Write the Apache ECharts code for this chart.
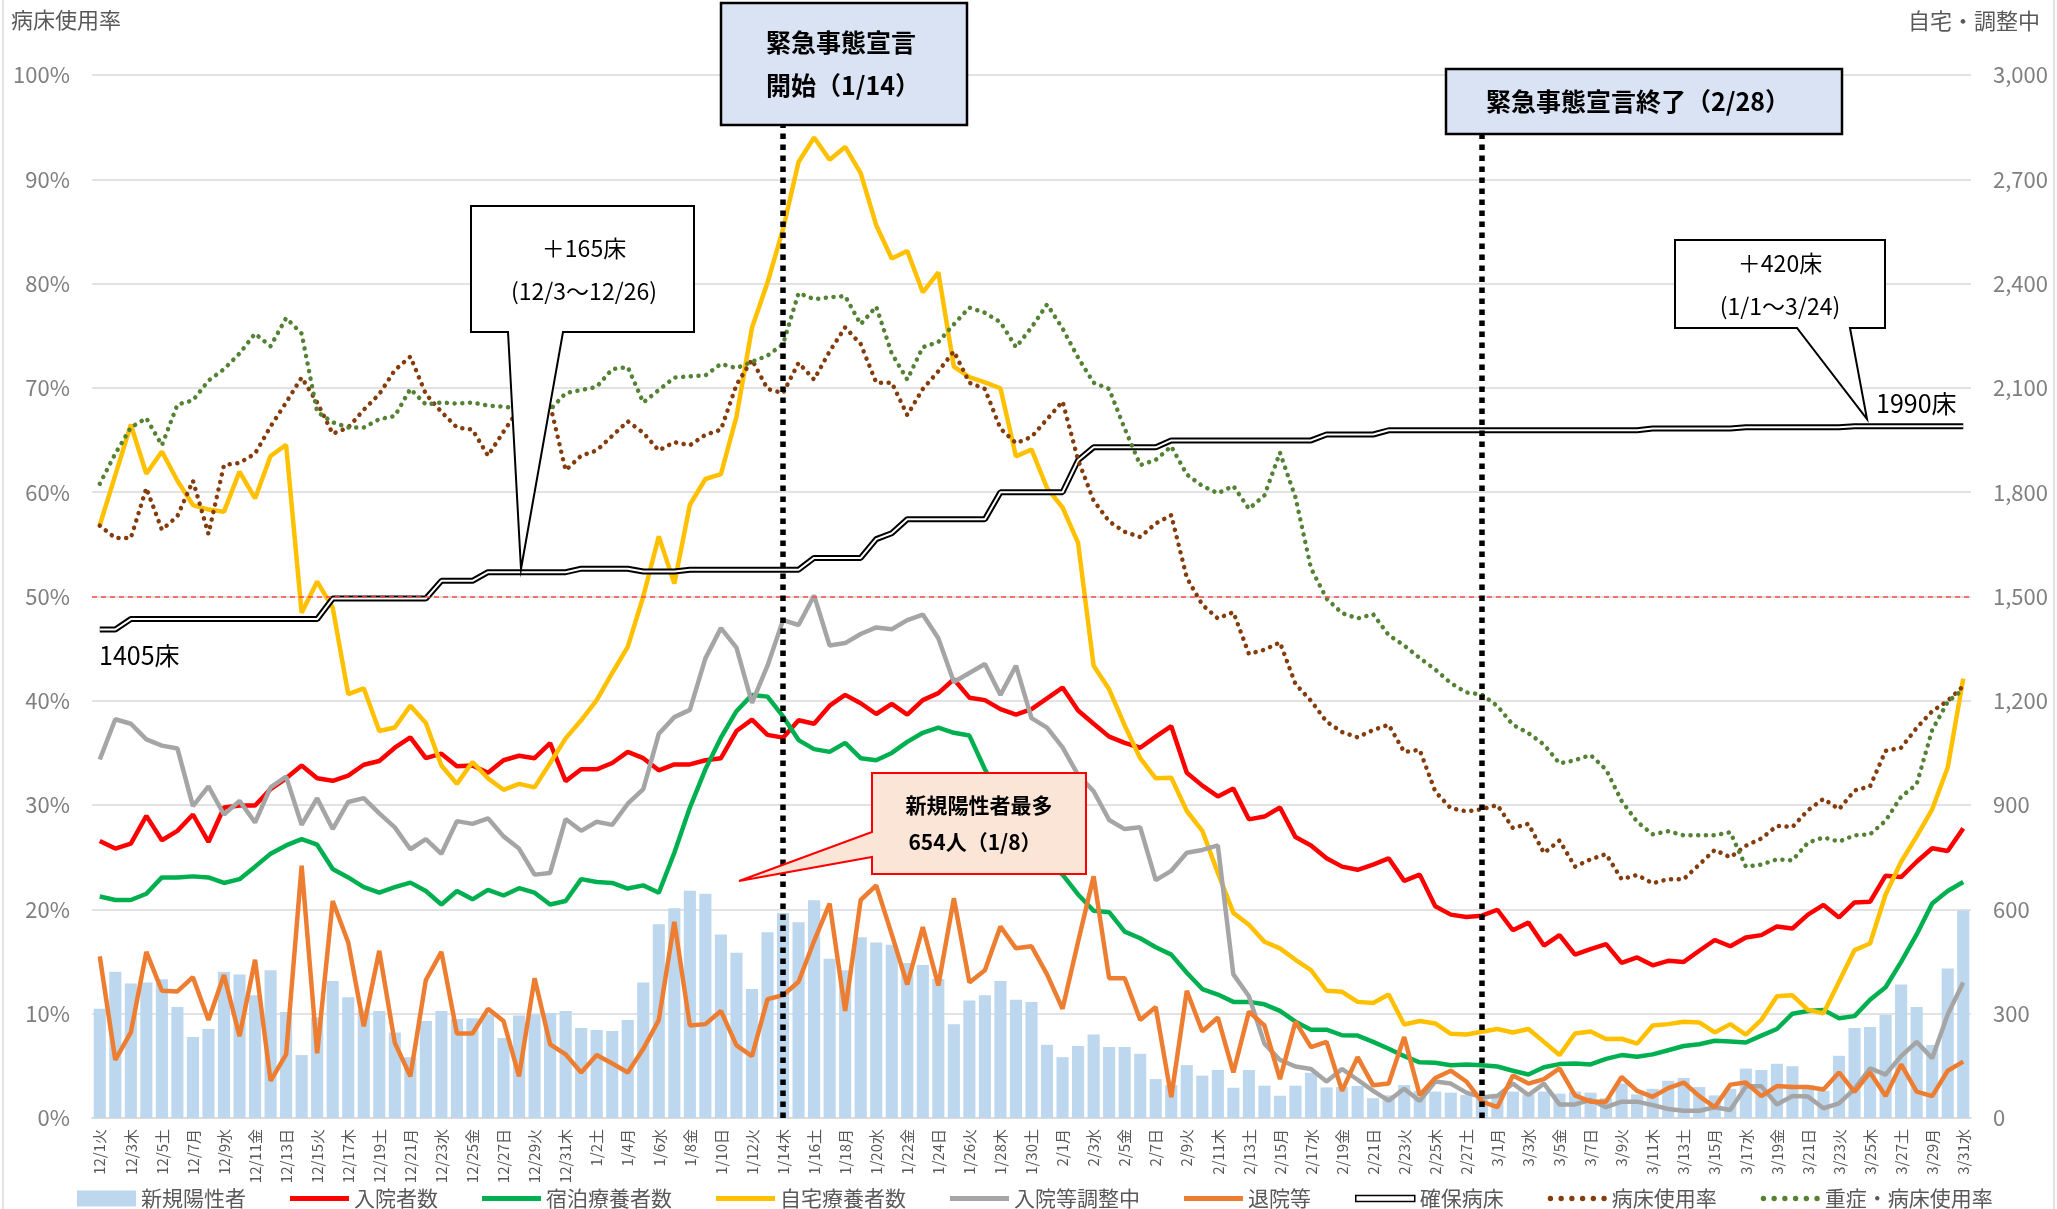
<!DOCTYPE html>
<html>
<head>
<meta charset="utf-8">
<script src="https://cdn.jsdelivr.net/npm/echarts@6/dist/echarts.min.js"></script>
<style>
  html, body { margin: 0; padding: 0; background: #fff; }
  #main { width: 2057px; height: 1209px; }
</style>
</head>
<body>
<div id="main"></div>
<script>
// 日付ラベル (12/1火 〜 3/31水)
var WEEK = ['日', '月', '火', '水', '木', '金', '土'];
var dates = [];
(function() {
    var d = new Date(2020, 11, 1);
    for (var i = 0; i < 121; i++) {
        dates.push((d.getMonth() + 1) + '/' + d.getDate() + WEEK[d.getDay()]);
        d.setDate(d.getDate() + 1);
    }
})();

// 新規陽性者
var newCases = [
    314, 421, 387, 390, 399, 319, 233, 256, 421, 413, 353, 425, 305, 181, 290, 394, 347, 310, 308, 246,
    175, 279, 308, 285, 287, 298, 230, 295, 298, 302,
    308, 259, 253, 250, 282, 390, 557, 603, 654, 645, 528, 475, 371, 534, 590, 563, 626, 458, 425, 520,
    505, 498, 446, 440, 400, 270, 338, 353, 394, 340,
    334, 211, 175, 207, 240, 204, 204, 185, 112, 95, 152, 122, 138, 87, 138, 93, 64, 93, 130, 88,
    89, 92, 57, 65, 95, 78, 76, 73, 66, 57,
    70, 76, 68, 76, 70, 76, 73, 57, 99, 68, 84, 107, 115, 89, 65, 84, 142, 138, 156, 149,
    94, 78, 179, 259, 262, 296, 384, 319, 210, 430, 597
];
// 入院者数
var hospitalized = [
    797, 775, 789, 869, 799, 826, 873, 794, 893, 899, 899, 946, 977, 1014, 977, 970, 985, 1016, 1027, 1065,
    1095, 1035, 1048, 1012, 1014, 993, 1029, 1042, 1035, 1078,
    969, 1003, 1003, 1021, 1053, 1035, 1000, 1017, 1017, 1029, 1035, 1113, 1146, 1102, 1094, 1144, 1134, 1186, 1217, 1193,
    1162, 1191, 1160, 1202, 1222, 1262, 1209, 1202, 1176, 1160,
    1176, 1207, 1238, 1172, 1134, 1097, 1079, 1065, 1097, 1127, 993, 956, 925, 948, 859, 867, 893, 808, 784, 747,
    723, 714, 729, 747, 682, 700, 609, 585, 578, 582,
    599, 540, 562, 496, 526, 470, 486, 500, 446, 462, 439, 452, 449, 481, 512, 494, 519, 526, 551, 545,
    585, 613, 577, 620, 622, 697, 693, 737, 776, 768, 833
];
// 宿泊療養者数
var hotel = [
    637, 627, 627, 645, 692, 692, 695, 692, 676, 687, 723, 760, 784, 802, 786, 716, 692, 664, 648, 664,
    677, 653, 614, 653, 629, 656, 640, 661, 648, 614,
    624, 687, 679, 676, 660, 669, 648, 763, 893, 1003, 1094, 1170, 1217, 1212, 1155, 1087, 1061, 1053, 1079, 1035,
    1029, 1050, 1082, 1108, 1123, 1108, 1100, 1003, 920, 840,
    780, 730, 700, 643, 596, 592, 536, 517, 491, 470, 418, 371, 355, 334, 334, 327, 308, 277, 254, 254,
    238, 237, 219, 199, 178, 160, 159, 152, 154, 152,
    148, 136, 125, 146, 155, 157, 154, 170, 181, 176, 183, 195, 207, 212, 222, 220, 217, 237, 256, 300,
    308, 311, 287, 293, 340, 376, 449, 528, 617, 653, 679
];
// 自宅療養者数
var home = [
    1705, 1849, 1994, 1853, 1917, 1833, 1763, 1750, 1744, 1859, 1782, 1904, 1936, 1453, 1543, 1468, 1219, 1236, 1113, 1123,
    1186, 1136, 1014, 961, 1024, 977, 944, 961, 951, 1021,
    1092, 1144, 1202, 1280, 1355, 1500, 1673, 1537, 1764, 1838, 1852, 2017, 2273, 2403, 2557, 2750, 2820, 2756, 2793, 2718,
    2568, 2472, 2494, 2375, 2432, 2161, 2131, 2116, 2099, 1903,
    1923, 1812, 1756, 1654, 1301, 1233, 1129, 1035, 977, 979, 883, 826, 705, 590, 556, 507, 488, 455, 425, 366,
    363, 334, 331, 355, 269, 279, 272, 242, 240, 248,
    256, 246, 256, 219, 181, 243, 249, 227, 228, 214, 266, 270, 277, 275, 246, 270, 240, 282, 350, 353,
    311, 301, 392, 483, 502, 643, 737, 810, 888, 1008, 1264
];
// 入院等調整中
var adjusting = [
    1031, 1147, 1134, 1089, 1071, 1063, 897, 954, 873, 912, 850, 951, 982, 843, 920, 831, 909, 920, 876, 836,
    773, 802, 760, 854, 846, 862, 810, 775, 700, 705,
    860, 826, 852, 843, 904, 946, 1105, 1153, 1174, 1322, 1409, 1353, 1194, 1301, 1432, 1418, 1503, 1359, 1366, 1392,
    1411, 1406, 1432, 1448, 1380, 1254, 1280, 1306, 1217, 1301,
    1150, 1123, 1066, 987, 940, 857, 831, 836, 684, 711, 763, 771, 784, 413, 350, 214, 167, 148, 141, 105,
    141, 110, 78, 50, 84, 49, 105, 99, 73, 60,
    63, 99, 66, 99, 39, 39, 52, 31, 47, 47, 37, 26, 21, 21, 31, 23, 91, 91, 39, 63,
    62, 28, 42, 84, 143, 125, 178, 219, 172, 298, 390
];
// 退院等
var discharged = [
    465, 167, 246, 478, 366, 364, 405, 282, 411, 235, 455, 107, 183, 726, 186, 624, 505, 264, 481, 216,
    120, 397, 478, 243, 243, 314, 279, 120, 402, 212,
    183, 131, 181, 157, 131, 199, 282, 564, 266, 270, 308, 209, 178, 342, 353, 392, 509, 617, 308, 627,
    669, 528, 384, 549, 381, 632, 390, 425, 551, 488,
    494, 413, 314, 507, 695, 402, 402, 282, 319, 60, 366, 249, 289, 131, 306, 266, 112, 277, 204, 219,
    78, 175, 94, 99, 233, 66, 115, 136, 105, 47,
    31, 122, 99, 112, 143, 65, 47, 47, 118, 78, 61, 86, 102, 63, 31, 96, 102, 63, 92, 89,
    89, 82, 131, 75, 131, 63, 154, 76, 63, 136, 162
];
// 確保病床
var beds = [
    1405, 1405, 1435, 1435, 1435, 1435, 1435, 1435, 1435, 1435, 1435, 1435, 1435, 1435, 1435, 1494, 1494, 1494, 1494, 1494,
    1494, 1494, 1545, 1545, 1545, 1570, 1570, 1570, 1570, 1570,
    1570, 1580, 1580, 1580, 1580, 1572, 1572, 1572, 1577, 1577, 1577, 1577, 1577, 1577, 1577, 1577, 1611, 1611, 1611, 1611,
    1665, 1682, 1722, 1722, 1722, 1722, 1722, 1722, 1800, 1800,
    1800, 1800, 1800, 1892, 1929, 1929, 1929, 1929, 1929, 1949, 1949, 1949, 1949, 1949, 1949, 1949, 1949, 1949, 1949, 1966,
    1966, 1966, 1966, 1978, 1978, 1978, 1978, 1978, 1978, 1978,
    1978, 1978, 1978, 1978, 1978, 1978, 1978, 1978, 1978, 1978, 1983, 1983, 1983, 1983, 1983, 1983, 1987, 1987, 1987, 1987,
    1987, 1987, 1987, 1990, 1990, 1990, 1990, 1990, 1990, 1990, 1990
];
// 病床使用率 (%)
var bedRate = [
    56.8, 55.6, 55.6, 60.4, 56.4, 57.7, 61.1, 56.0, 62.6, 62.8, 63.7, 66.3, 68.6, 71.0, 68.6, 65.6, 66.2, 67.9, 69.4, 71.7,
    73.0, 69.4, 67.7, 66.2, 66.0, 63.5, 65.8, 68.0, 66.5, 68.4,
    62.1, 63.5, 64.0, 65.4, 66.8, 65.7, 64.0, 64.8, 64.5, 65.5, 66.0, 70.3, 72.7, 69.9, 69.5, 72.4, 70.8, 73.5, 75.8, 74.2,
    70.5, 70.5, 67.4, 69.9, 71.6, 73.5, 70.5, 69.9, 66.1, 64.7,
    65.3, 67.0, 68.7, 63.1, 59.2, 57.2, 56.2, 55.7, 57.0, 57.8, 51.8, 49.2, 47.9, 48.5, 44.5, 44.9, 45.6, 41.6, 40.0, 38.0,
    37.0, 36.5, 37.2, 37.7, 35.1, 35.3, 31.3, 29.7, 29.4, 29.6,
    30.0, 27.8, 28.2, 25.4, 26.6, 24.1, 24.8, 25.3, 22.9, 23.3, 22.5, 22.9, 22.9, 24.3, 25.7, 25.0, 26.1, 26.8, 28.0, 27.9,
    29.5, 30.6, 29.6, 31.4, 31.8, 35.2, 35.5, 37.4, 39.0, 40.0, 41.4
];
// 重症・病床使用率 (%)
var severeRate = [
    60.8, 63.7, 66.2, 67.1, 64.5, 68.4, 68.8, 70.7, 71.8, 73.3, 75.2, 74.0, 76.7, 75.2, 67.7, 66.7, 66.2, 66.2, 67.0, 67.3,
    69.9, 68.4, 68.6, 68.5, 68.6, 68.3, 68.2, 68.0, 67.9, 67.9,
    69.5, 69.8, 70.1, 71.8, 72.0, 68.6, 69.8, 71.0, 71.1, 71.2, 72.3, 71.9, 72.5, 73.1, 74.2, 79.1, 78.5, 78.7, 78.8, 76.1,
    77.8, 73.3, 70.8, 73.9, 74.4, 76.1, 77.7, 77.2, 76.3, 73.9,
    75.8, 78.0, 75.7, 72.9, 70.5, 69.9, 66.1, 62.6, 63.1, 64.4, 61.7, 60.6, 59.9, 60.6, 58.4, 59.7, 63.8, 59.5, 52.7, 49.8,
    48.4, 47.9, 48.3, 46.3, 45.3, 44.1, 43.0, 41.7, 40.8, 40.6,
    39.5, 37.7, 36.9, 35.8, 34.0, 34.3, 34.8, 33.4, 30.4, 28.4, 27.2, 27.5, 27.1, 27.1, 27.1, 27.4, 24.1, 24.3, 24.8, 24.7,
    26.4, 26.9, 26.5, 27.1, 27.2, 28.5, 30.8, 32.0, 37.2, 39.9, 41.1
];

// 緊急事態宣言の開始・終了日
var eventDays = [dates[44], dates[89]];

var FONT = '"Noto Sans CJK JP", "Noto Sans", sans-serif';

// 凡例アイコン
var LINE_ICON = 'path://M0 0H60V5H0Z';
var DOT_ICON = 'path://' + [2.5, 12.5, 22.5, 32.5, 42.5, 52.5].map(function(c) {
    return 'M' + (c - 2.5) + ' 2.5A2.5 2.5 0 1 0 ' + (c + 2.5) + ' 2.5A2.5 2.5 0 1 0 ' + (c - 2.5) + ' 2.5Z';
}).join('');

function legendLine(name, color) {
    return { name: name, icon: LINE_ICON, itemStyle: { color: color, borderWidth: 0 } };
}
function legendDot(name, color) {
    return { name: name, icon: DOT_ICON, itemStyle: { color: color, borderWidth: 0 } };
}

var myChart = echarts.init(document.getElementById('main'));

function lineSeries(name, data, color, width, yIndex) {
    return {
        name: name,
        type: 'line',
        yAxisIndex: yIndex,
        data: data,
        symbol: 'none',
        lineStyle: { color: color, width: width },
        itemStyle: { color: color }
    };
}

function dottedSeries(name, data, color) {
    return {
        name: name,
        type: 'line',
        yAxisIndex: 0,
        data: data,
        symbol: 'none',
        lineStyle: { color: color, width: 4.5, type: [0.1, 7.6], cap: 'round' },
        itemStyle: { color: color }
    };
}

var greenDotted = dottedSeries('重症・病床使用率', severeRate, '#548235');
greenDotted.markLine = {
    silent: true,
    symbol: ['none', 'none'],
    label: { show: false },
    lineStyle: { color: '#000', width: 5.5, type: [5.5, 5.5] },
    data: [{ xAxis: eventDays[0] }, { xAxis: eventDays[1] }]
};

var option = {
    animation: false,
    backgroundColor: '#fff',
    textStyle: { fontFamily: FONT },
    grid: { left: 92, right: 86, top: 75, bottom: 91 },
    legend: {
        top: 1183,
        left: 72,
        itemWidth: 59,
        itemHeight: 16,
        itemGap: 44,
        textStyle: { color: '#595959', fontSize: 21, fontFamily: FONT },
        data: [
            { name: '新規陽性者', icon: 'rect', itemStyle: { color: '#BDD7EE' } },
            legendLine('入院者数', '#FF0000'),
            legendLine('宿泊療養者数', '#00B050'),
            legendLine('自宅療養者数', '#FFC000'),
            legendLine('入院等調整中', '#A5A5A5'),
            legendLine('退院等', '#ED7D31'),
            { name: '確保病床', icon: 'path://M0 0H60V6H0Z',
              itemStyle: { color: '#fff', borderColor: '#000', borderWidth: 1.5 } },
            legendDot('病床使用率', '#843C0C'),
            legendDot('重症・病床使用率', '#548235')
        ]
    },
    xAxis: {
        type: 'category',
        data: dates,
        axisLine: { lineStyle: { color: '#D9D9D9', width: 1.5 } },
        axisTick: { interval: 1, length: 5, lineStyle: { color: '#BFBFBF' } },
        axisLabel: { interval: 1, rotate: 90, color: '#595959', fontSize: 15, margin: 11, fontFamily: FONT }
    },
    yAxis: [
        {
            type: 'value', min: 0, max: 100, interval: 10,
            axisLabel: { formatter: '{value}%', color: '#7F7F7F', fontSize: 22, margin: 22, fontFamily: FONT },
            splitLine: { lineStyle: { color: '#D9D9D9', width: 1.5 } },
            axisLine: { show: false }, axisTick: { show: false }
        },
        {
            type: 'value', min: 0, max: 3000, interval: 300,
            axisLabel: {
                color: '#7F7F7F', fontSize: 22, margin: 22, fontFamily: FONT,
                formatter: function(v) { return v.toLocaleString('en-US'); }
            },
            splitLine: { show: false },
            axisLine: { show: false }, axisTick: { show: false }
        }
    ],
    series: [
        {
            name: '新規陽性者',
            type: 'bar',
            yAxisIndex: 1,
            data: newCases,
            barCategoryGap: '22%',
            itemStyle: { color: '#BDD7EE' },
            markLine: {
                silent: true,
                symbol: ['none', 'none'],
                label: { show: false },
                lineStyle: { color: '#FF4B4B', width: 1.5, type: [5, 4] },
                data: [{ yAxis: 1500 }]
            }
        },
        lineSeries('入院者数', hospitalized, '#FF0000', 4.5, 1),
        lineSeries('宿泊療養者数', hotel, '#00B050', 4.5, 1),
        lineSeries('自宅療養者数', home, '#FFC000', 4.5, 1),
        lineSeries('入院等調整中', adjusting, '#A5A5A5', 4.5, 1),
        lineSeries('退院等', discharged, '#ED7D31', 4.5, 1),
        lineSeries('確保病床', beds, '#000000', 6, 1),
        lineSeries('確保病床内線', beds, '#FFFFFF', 2, 1),
        dottedSeries('病床使用率', bedRate, '#843C0C'),
        greenDotted
    ],
    graphic: [
        // 外枠
        { type: 'line', z: 100, shape: { x1: 3, y1: 0, x2: 3, y2: 1209 }, style: { stroke: '#D9D9D9', lineWidth: 1.5 } },
        { type: 'line', z: 100, shape: { x1: 2054, y1: 0, x2: 2054, y2: 1209 }, style: { stroke: '#D9D9D9', lineWidth: 1.5 } },
        // 軸タイトル
        { type: 'text', z: 100, style: { text: '病床使用率', x: 11, y: 20, fill: '#595959',
            font: '22px ' + FONT, verticalAlign: 'middle' } },
        { type: 'text', z: 100, style: { text: '自宅・調整中', x: 2040, y: 21, fill: '#595959',
            font: '22px ' + FONT, align: 'right', verticalAlign: 'middle' } },
        // 緊急事態宣言 開始
        { type: 'rect', z: 100, shape: { x: 721, y: 3, width: 246, height: 122 },
          style: { fill: '#DAE3F3', stroke: '#000', lineWidth: 2.5 } },
        { type: 'text', z: 101, style: { text: '緊急事態宣言', x: 766, y: 42, fill: '#000',
            font: 'bold 25px ' + FONT, verticalAlign: 'middle' } },
        { type: 'text', z: 101, style: { text: '開始（1/14）', x: 766, y: 85, fill: '#000',
            font: 'bold 25px ' + FONT, verticalAlign: 'middle' } },
        // 緊急事態宣言 終了
        { type: 'rect', z: 100, shape: { x: 1446, y: 69, width: 396, height: 65 },
          style: { fill: '#DAE3F3', stroke: '#000', lineWidth: 2.5 } },
        { type: 'text', z: 101, style: { text: '緊急事態宣言終了（2/28）', x: 1638, y: 101, fill: '#000',
            font: 'bold 25px ' + FONT, align: 'center', verticalAlign: 'middle' } },
        // ＋165床
        { type: 'polygon', z: 100,
          shape: { points: [[471, 206], [694, 206], [694, 332], [563, 332], [521, 569], [508, 332], [471, 332]] },
          style: { fill: '#fff', stroke: '#000', lineWidth: 2 } },
        { type: 'text', z: 101, style: { text: '＋165床', x: 584, y: 248, fill: '#000',
            font: '23px ' + FONT, align: 'center', verticalAlign: 'middle' } },
        { type: 'text', z: 101, style: { text: '(12/3〜12/26)', x: 584, y: 291, fill: '#000',
            font: '23px ' + FONT, align: 'center', verticalAlign: 'middle' } },
        // ＋420床
        { type: 'polygon', z: 100,
          shape: { points: [[1675, 240], [1885, 240], [1885, 328], [1850, 328], [1867, 419], [1797, 328], [1675, 328]] },
          style: { fill: '#fff', stroke: '#000', lineWidth: 2 } },
        { type: 'text', z: 101, style: { text: '＋420床', x: 1780, y: 263, fill: '#000',
            font: '23px ' + FONT, align: 'center', verticalAlign: 'middle' } },
        { type: 'text', z: 101, style: { text: '(1/1〜3/24)', x: 1780, y: 306, fill: '#000',
            font: '23px ' + FONT, align: 'center', verticalAlign: 'middle' } },
        // 新規陽性者最多
        { type: 'polygon', z: 100,
          shape: { points: [[872, 773], [1086, 773], [1086, 874], [872, 874], [872, 857], [739, 881], [872, 832]] },
          style: { fill: '#FBE5D6', stroke: '#FF0000', lineWidth: 2 } },
        { type: 'text', z: 101, style: { text: '新規陽性者最多', x: 979, y: 805, fill: '#000',
            font: 'bold 21px ' + FONT, align: 'center', verticalAlign: 'middle' } },
        { type: 'text', z: 101, style: { text: '654人（1/8）', x: 975, y: 842, fill: '#000',
            font: 'bold 21px ' + FONT, align: 'center', verticalAlign: 'middle' } },
        // 病床数ラベル
        { type: 'text', z: 101, style: { text: '1405床', x: 99, y: 655, fill: '#000',
            font: '25px ' + FONT, verticalAlign: 'middle' } },
        { type: 'text', z: 101, style: { text: '1990床', x: 1876, y: 403, fill: '#000',
            font: '25px ' + FONT, verticalAlign: 'middle' } }
    ]
};

myChart.setOption(option);
</script>
</body>
</html>
